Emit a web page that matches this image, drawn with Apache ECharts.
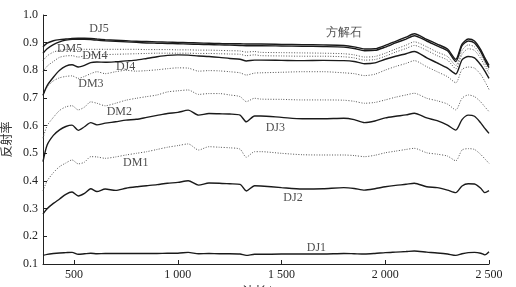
<!DOCTYPE html>
<html><head><meta charset="utf-8">
<script src="https://cdn.jsdelivr.net/npm/echarts@6/dist/echarts.min.js"></script>
<style>html,body{margin:0;padding:0;background:#fff}#c{width:516px;height:287px}</style>
</head><body><div id="c"></div>
<script>
const wavelengths = [350,370,400,430,460,490,520,550,580,610,650,700,750,800,850,900,950,1000,1050,1100,1150,1200,1250,1300,1330,1370,1400,1500,1600,1700,1800,1850,1900,1950,2000,2050,2100,2140,2200,2250,2300,2340,2370,2400,2430,2460,2480,2500];

const calcite = [0.885,0.898,0.907,0.911,0.913,0.915,0.916,0.916,0.915,0.913,0.911,0.909,0.907,0.905,0.904,0.903,0.902,0.901,0.900,0.899,0.898,0.897,0.896,0.896,0.895,0.895,0.895,0.894,0.893,0.892,0.890,0.885,0.877,0.878,0.890,0.905,0.920,0.932,0.912,0.895,0.877,0.840,0.895,0.913,0.906,0.875,0.845,0.818];
const DJ5 = [0.862,0.878,0.893,0.903,0.909,0.912,0.912,0.912,0.911,0.909,0.907,0.905,0.903,0.901,0.899,0.898,0.897,0.896,0.895,0.894,0.893,0.892,0.891,0.890,0.889,0.889,0.889,0.888,0.887,0.886,0.884,0.879,0.871,0.872,0.884,0.899,0.913,0.925,0.906,0.888,0.871,0.832,0.889,0.906,0.899,0.868,0.838,0.810];
const DM5 = [0.835,0.852,0.866,0.872,0.875,0.876,0.876,0.876,0.876,0.876,0.876,0.876,0.876,0.876,0.875,0.875,0.875,0.874,0.874,0.873,0.873,0.872,0.871,0.870,0.866,0.868,0.865,0.864,0.863,0.862,0.860,0.856,0.848,0.850,0.862,0.877,0.891,0.903,0.885,0.866,0.850,0.818,0.872,0.892,0.885,0.855,0.828,0.800];
const DM4 = [0.795,0.815,0.832,0.847,0.852,0.853,0.848,0.852,0.856,0.857,0.857,0.858,0.859,0.860,0.861,0.862,0.862,0.862,0.862,0.861,0.861,0.860,0.859,0.858,0.853,0.856,0.853,0.852,0.851,0.851,0.849,0.845,0.837,0.839,0.851,0.866,0.879,0.890,0.872,0.853,0.837,0.806,0.858,0.878,0.872,0.843,0.815,0.789];
const DJ4 = [0.710,0.745,0.775,0.800,0.815,0.820,0.812,0.818,0.828,0.830,0.829,0.831,0.834,0.837,0.843,0.849,0.854,0.856,0.855,0.852,0.850,0.847,0.843,0.840,0.834,0.837,0.837,0.836,0.835,0.836,0.835,0.832,0.824,0.827,0.840,0.851,0.860,0.868,0.845,0.827,0.808,0.787,0.838,0.850,0.845,0.820,0.797,0.771];
const DM3 = [0.710,0.740,0.762,0.773,0.778,0.780,0.771,0.778,0.788,0.795,0.788,0.795,0.800,0.797,0.799,0.802,0.806,0.809,0.808,0.797,0.799,0.798,0.795,0.791,0.783,0.790,0.791,0.793,0.795,0.795,0.791,0.788,0.781,0.786,0.801,0.814,0.825,0.835,0.813,0.795,0.777,0.755,0.803,0.812,0.808,0.785,0.760,0.731];
const DM2 = [0.555,0.600,0.630,0.655,0.668,0.672,0.657,0.667,0.686,0.681,0.672,0.681,0.692,0.699,0.705,0.711,0.722,0.726,0.729,0.713,0.716,0.716,0.711,0.705,0.687,0.699,0.696,0.695,0.693,0.693,0.692,0.688,0.681,0.684,0.693,0.703,0.711,0.717,0.699,0.690,0.678,0.657,0.699,0.711,0.705,0.686,0.668,0.651];
const DJ3 = [0.470,0.530,0.565,0.585,0.597,0.602,0.583,0.596,0.611,0.603,0.609,0.614,0.620,0.623,0.630,0.637,0.644,0.648,0.656,0.638,0.644,0.643,0.642,0.638,0.614,0.635,0.635,0.630,0.625,0.625,0.627,0.622,0.611,0.617,0.628,0.634,0.639,0.645,0.628,0.618,0.602,0.584,0.622,0.638,0.634,0.610,0.590,0.572];
const DM1 = [0.365,0.400,0.430,0.452,0.465,0.476,0.462,0.468,0.488,0.487,0.482,0.487,0.494,0.500,0.506,0.514,0.522,0.528,0.534,0.512,0.524,0.522,0.520,0.515,0.486,0.506,0.506,0.500,0.495,0.494,0.494,0.492,0.488,0.493,0.502,0.508,0.514,0.518,0.502,0.497,0.490,0.473,0.512,0.517,0.514,0.496,0.480,0.464];
const DJ2 = [0.281,0.300,0.319,0.335,0.352,0.360,0.346,0.355,0.372,0.362,0.371,0.366,0.374,0.379,0.383,0.387,0.392,0.395,0.401,0.385,0.393,0.392,0.390,0.388,0.364,0.383,0.382,0.376,0.371,0.372,0.376,0.373,0.367,0.372,0.379,0.384,0.388,0.392,0.379,0.376,0.367,0.358,0.382,0.390,0.389,0.374,0.358,0.365];
const DJ1 = [0.131,0.135,0.138,0.140,0.141,0.142,0.135,0.137,0.139,0.137,0.138,0.138,0.138,0.138,0.138,0.138,0.139,0.139,0.142,0.137,0.138,0.137,0.137,0.136,0.131,0.135,0.135,0.136,0.136,0.136,0.138,0.137,0.136,0.138,0.141,0.143,0.145,0.147,0.143,0.140,0.136,0.131,0.137,0.141,0.142,0.139,0.133,0.144];

const xTicks = [500,1000,1500,2000,2500];
// curve annotations: [text, wavelength, reflectance]
const curveLabels = [
  ['DJ5', 620, 0.950], ['方解石', 1800, 0.935], ['DM5', 478, 0.877], ['DM4', 600, 0.852],
  ['DJ4', 748, 0.811], ['DM3', 581, 0.750], ['DM2', 718, 0.651], ['DJ3', 1470, 0.592],
  ['DM1', 797, 0.465], ['DJ2', 1555, 0.340], ['DJ1', 1668, 0.160]
];

const seriesDefs = [
  ['方解石', calcite, 'solid'], ['DJ5', DJ5, 'solid'], ['DM5', DM5, 'dotted'], ['DM4', DM4, 'dotted'],
  ['DJ4', DJ4, 'solid'], ['DM3', DM3, 'dotted'], ['DM2', DM2, 'dotted'], ['DJ3', DJ3, 'solid'],
  ['DM1', DM1, 'dotted'], ['DJ2', DJ2, 'solid'], ['DJ1', DJ1, 'solid']
];

const serif = '"Liberation Serif", "DejaVu Serif", serif';
const cjk = '"Noto Sans CJK SC", sans-serif';

const series = seriesDefs.map(([name, vals, type]) => ({
  name, type: 'line', smooth: 0.25, symbol: 'none', silent: true,
  data: wavelengths.map((w, i) => [w, vals[i]]),
  lineStyle: type === 'solid'
    ? { color: '#1a1a1a', width: 1.4, type: 'solid' }
    : { color: '#555', width: 1, type: [1, 1.6] },
  z: type === 'solid' ? 3 : 2
}));

series.push({
  type: 'scatter', symbolSize: 0, silent: true, z: 5,
  data: curveLabels.map(([t, x, y]) => ({ value: [x, y], name: t })),
  label: {
    show: true, position: 'inside', formatter: p => p.name,
    color: '#222', fontSize: 12, fontFamily: serif
  }
});

const chart = echarts.init(document.getElementById('c'), null, { renderer: 'canvas' });
chart.setOption({
  animation: false,
  backgroundColor: '#fff',
  grid: { left: 43, right: 27, top: 15, bottom: 23, containLabel: false, outerBoundsMode: 'none' },
  xAxis: {
    type: 'value', min: 350, max: 2500,
    name: '波长/nm', nameLocation: 'middle', nameGap: 18,
    nameTextStyle: { fontFamily: cjk, fontSize: 12, color: '#222' },
    axisLine: { show: true, lineStyle: { color: '#222', width: 1 } },
    axisTick: { show: true, inside: true, length: 4, customValues: xTicks, lineStyle: { color: '#222' } },
    axisLabel: { customValues: xTicks, margin: 5, color: '#222', fontSize: 12, fontFamily: serif,
      formatter: v => String(v).replace(/\B(?=(\d{3})+(?!\d))/g, ' ') },
    splitLine: { show: false }
  },
  yAxis: {
    type: 'value', min: 0.1, max: 1.0, interval: 0.1,
    name: '反射率', nameLocation: 'middle', nameGap: 31,
    nameTextStyle: { fontFamily: cjk, fontSize: 12, color: '#333' },
    axisLine: { show: true, lineStyle: { color: '#222', width: 1 } },
    axisTick: { show: true, inside: true, length: 4, lineStyle: { color: '#222' } },
    axisLabel: { margin: 5, color: '#222', fontSize: 12, fontFamily: serif, formatter: v => v.toFixed(1) },
    splitLine: { show: false }
  },
  series
});
</script>
</body></html>
